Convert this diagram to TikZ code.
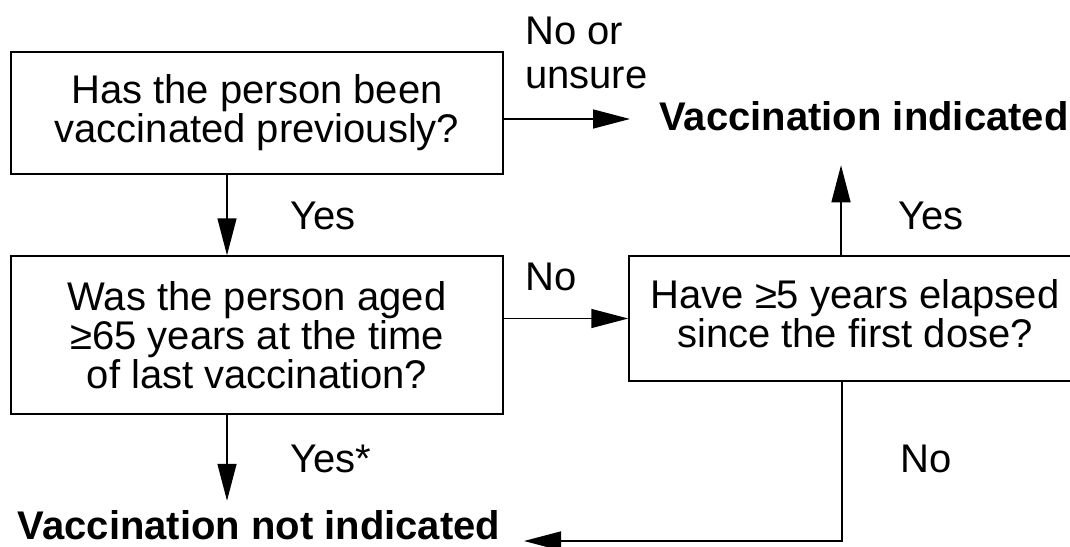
\documentclass[tikz,border=0pt]{standalone}
\usepackage{fontspec}
\setmainfont{Liberation Sans}
\usetikzlibrary{arrows.meta}
\begin{document}
\begin{tikzpicture}[x=1pt,y=-1pt,
  every node/.style={font=\fontsize{40}{39}\selectfont},
  box/.style={draw,line width=1.5pt,inner sep=0pt,align=center},
  lbl/.style={inner sep=0pt,anchor=base west},
  res/.style={inner sep=0pt,anchor=base,font=\fontsize{40}{39}\selectfont\bfseries},
  arr/.style={line width=1.5pt,-{Triangle[length=37pt,width=19pt]}},
  ln/.style={line width=1.5pt}]
\useasboundingbox (0,0) rectangle (1070,546);
\node[box,minimum width=492pt,minimum height=122pt] (b1) at (257,113)
  {Has the person been\\vaccinated previously?};
\node[box,minimum width=492pt,minimum height=158pt] (b2) at (257,335)
  {Was the person aged\\≥65 years at the time\\of last vaccination?};
\node[box,minimum width=470pt,minimum height=125pt] (b3) at (864,318.5) {};
\node[inner sep=0pt,align=center] (t3) at (855,314) {Have ≥5 years elapsed\\since the first dose?};
\node[res] (vi) at (864,130) {Vaccination indicated};
\node[res] (vni) at (259,539) {Vaccination not indicated};
\coordinate (vitip) at (630,119);
\coordinate (vnitip) at (524,541);
\node[lbl,align=left,font=\fontsize{40}{44}\selectfont] (l1) at (525,88) {No or\\unsure};
\node[lbl] (l2) at (290,229) {Yes};
\node[lbl] (l3) at (525,290) {No};
\node[lbl] (l4) at (898,229) {Yes};
\node[lbl] (l5) at (290,472) {Yes*};
\node[lbl] (l6) at (900,472) {No};
\draw[arr] (b1.east |- vitip) -- (vitip);
\draw[arr] ([xshift=-30pt]b1.south) -- ([xshift=-30pt]b2.north);
\draw[arr] (b2.east |- b3.west) -- (b3.west);
\draw[arr] ([xshift=-23pt]b3.north) -- ++(0,-90);
\draw[arr] ([xshift=-22pt]b3.south) |- (vnitip);
\draw[arr] ([xshift=-30pt]b2.south) -- ++(0,86);
\end{tikzpicture}
\end{document}
